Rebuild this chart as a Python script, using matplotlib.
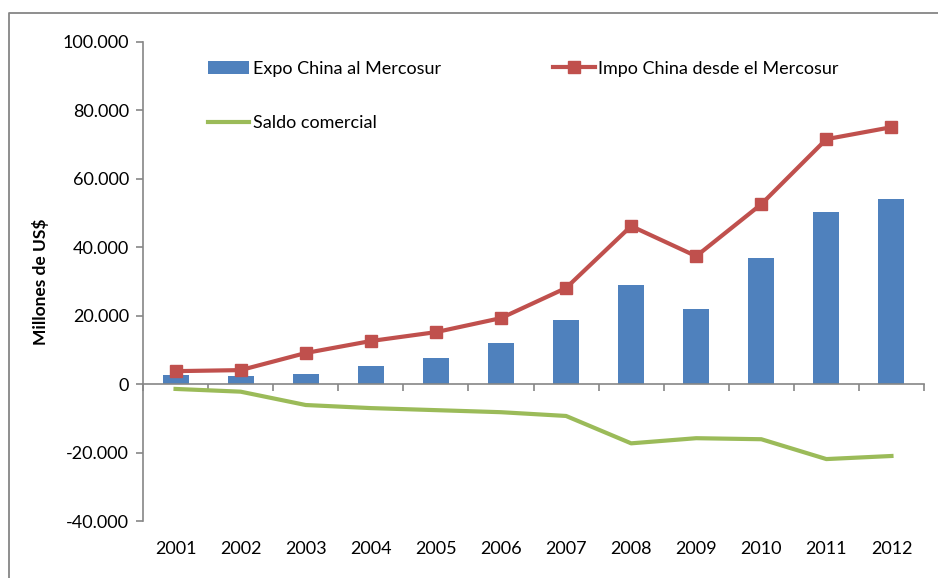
import matplotlib

matplotlib.use("Agg")
import matplotlib.pyplot as plt
from matplotlib.lines import Line2D
from matplotlib.ticker import FuncFormatter, FixedLocator
import matplotlib.transforms as mtransforms

years = ["2001", "2002", "2003", "2004", "2005", "2006",
         "2007", "2008", "2009", "2010", "2011", "2012"]
expo = [2600, 2300, 3100, 5300, 7600, 12000, 18700, 28900, 21900, 36800, 50300, 54100]
impo = [3800, 4100, 9100, 12600, 15200, 19300, 28100, 46200, 37400, 52600, 71600, 75100]
saldo = [-1400, -2200, -6100, -7000, -7600, -8200, -9300, -17300, -15800, -16100, -21900, -21000]

plt.rcParams["font.family"] = ["Lato", "DejaVu Sans"]

BLUE = "#4F81BD"
RED = "#C0504D"
GREEN = "#9BBB59"
GRAY = "#868686"

W, H = 938, 578
fig = plt.figure(figsize=(W / 100, H / 100), dpi=100)
# outer chart frame (only top and left edges visible in the crop)
fig.add_artist(Line2D([9 / W, 9 / W, 1.0], [0, 1 - 13 / H, 1 - 13 / H],
                      transform=fig.transFigure, color=GRAY, linewidth=1.3))
ax = fig.add_axes([143 / W, 1 - 521 / H, (924 - 143) / W, (521 - 42) / H])

x = list(range(len(years)))
bars = ax.bar(x, expo, width=0.4, color=BLUE, label="Expo China al Mercosur", zorder=2)
(l_impo,) = ax.plot(x, impo, color=RED, linewidth=3, marker="s", markersize=8.5,
                    label="Impo China desde el Mercosur", zorder=3)
(l_saldo,) = ax.plot(x, saldo, color=GREEN, linewidth=3, label="Saldo comercial", zorder=3)

ax.set_xlim(-0.5, len(years) - 0.5)
ax.set_ylim(-40000, 100000)
ax.yaxis.set_major_locator(FixedLocator(range(-40000, 100001, 20000)))
ax.yaxis.set_major_formatter(FuncFormatter(lambda v, p: f"{int(v):,}".replace(",", ".")))

for side in ("top", "right"):
    ax.spines[side].set_visible(False)
ax.spines["left"].set_color(GRAY)
ax.spines["bottom"].set_color(GRAY)
ax.spines["bottom"].set_position(("data", 0))
ax.spines["left"].set_linewidth(1.2)
ax.spines["bottom"].set_linewidth(1.2)

ax.set_xticks([i - 0.5 for i in range(len(years) + 1)])
ax.set_xticklabels([])
ax.tick_params(axis="x", length=5, width=1.2, color=GRAY, direction="out")
ax.tick_params(axis="y", length=5, width=1.2, color=GRAY, direction="out",
               labelsize=13, pad=5)

trans = mtransforms.blended_transform_factory(ax.transData, ax.transAxes)
for i, yr in enumerate(years):
    ax.text(i, -0.058, yr, transform=trans, ha="center", va="center", fontsize=13)

ax.set_ylabel("Millones de US$", fontsize=12.5, fontweight="bold", labelpad=10)

ax.legend([bars, l_saldo, l_impo],
          ["Expo China al Mercosur", "Saldo comercial", "Impo China desde el Mercosur"],
          ncol=2, loc="upper left", bbox_to_anchor=(0.083, 0.961), frameon=False,
          fontsize=13, handlelength=2.3, handletextpad=0.2, labelspacing=2.12,
          columnspacing=6.2, borderpad=0, borderaxespad=0)

fig.savefig("out.png", dpi=100)
